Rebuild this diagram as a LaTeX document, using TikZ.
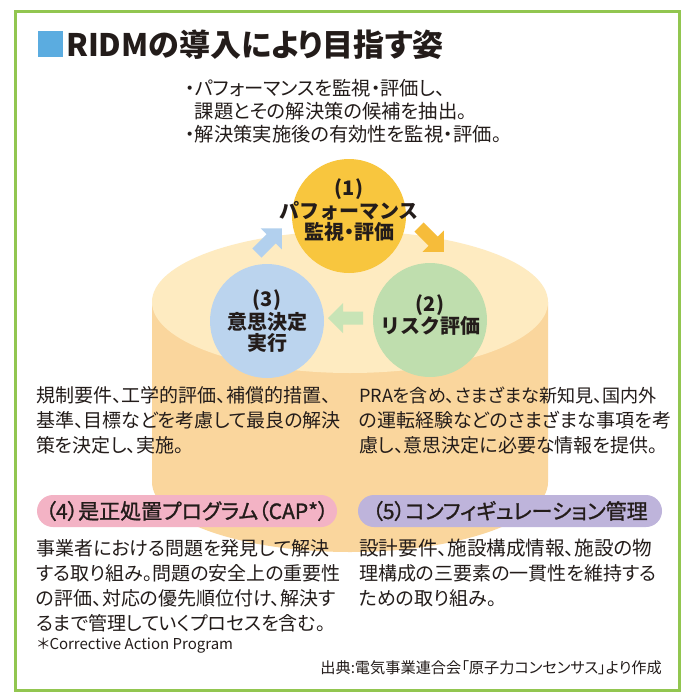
\documentclass[tikz,border=0pt]{standalone}
\usepackage{fontspec}
\setmainfont{Noto Sans CJK JP}[CharacterWidth=AlternateProportional]
\newfontfamily\jpfull{Noto Sans CJK JP}
\newfontfamily\jpmed{Noto Sans CJK JP}[CharacterWidth=AlternateProportional, FakeBold=1.2]
\definecolor{framegreen}{RGB}{146,198,80}
\definecolor{titleblue}{RGB}{91,172,224}
\definecolor{txt}{RGB}{35,28,26}
\definecolor{cyltop}{RGB}{254,235,193}
\definecolor{cylbody}{RGB}{250,214,157}
\definecolor{cgold}{RGB}{248,198,62}
\definecolor{cgreen}{RGB}{191,222,174}
\definecolor{cblue}{RGB}{187,212,238}
\definecolor{ablue}{RGB}{178,208,238}
\definecolor{aorange}{RGB}{246,188,58}
\definecolor{agreen}{RGB}{200,228,182}
\definecolor{pillpink}{RGB}{243,179,197}
\definecolor{pillpurple}{RGB}{190,180,219}
\begin{document}
\begin{tikzpicture}[x=1pt,y=-1pt,
  every node/.style={text=txt, inner sep=0pt},
  circ/.style={circle, minimum size=114pt, draw=none},
  ctext/.style={align=center, font=\jpfull\bfseries\fontsize{20}{21}\selectfont},
  para/.style={anchor=west, align=left, font=\fontsize{19}{25}\selectfont},
  pill/.style={rounded corners=16pt, minimum height=32pt, font=\jpmed\fontsize{21}{21}\selectfont},
  fatarr/.pic={\fill[pic actions] (0,-6.5) -- (20,-6.5) -- (20,-15) -- (35,0) -- (20,15) -- (20,6.5) -- (0,6.5) -- cycle;}
]
\path[use as bounding box] (0,0) rectangle (684,694);
\fill[white] (0,0) rectangle (684,694);
\draw[framegreen, line width=3pt] (15,11) rectangle (679,690);

% title
\fill[titleblue] (38,31) rectangle (63,57);
\node[anchor=west, font=\bfseries\fontsize{31}{31}\selectfont] (title) at (66,45) {RIDMの導入により目指す姿};

% bullets
\node[anchor=west, align=left, font=\fontsize{19.3}{23}\selectfont] (bul) at (185,111)
  {・パフォーマンスを監視・評価し、\\\phantom{・}課題とその解決策の候補を抽出。\\・解決策実施後の有効性を監視・評価。};

% cylinder
\fill[cylbody] (152,302) -- (152,482) arc[start angle=180, end angle=0, x radius=198, y radius=70] -- (548,302) -- cycle;
\fill[cyltop] (350,302) ellipse[x radius=198, y radius=71];

% circles
\node[circ, fill=cgold] (c1) at (349,216) {};
\node[circ, fill=cgreen] (c2) at (430,320) {};
\node[circ, fill=cblue] (c3) at (267,321) {};
\node[ctext] (t1) at (c1.center) [yshift=6pt] {(1)\\パフォーマンス\\{\rmfamily\bfseries 監視・評価}};
\node[ctext] (t2) at (c2.center) [yshift=5pt] {(2)\\リスク評価};
\node[ctext] (t3) at (c3.center) {(3)\\意思決定\\実行};

% arrows
\pic[fill=ablue, rotate=45] at (257,253) {fatarr};
\pic[fill=aorange, rotate=-45] at (419,227) {fatarr};
\pic[fill=agreen, rotate=180] at (363,318) {fatarr};

% paragraphs
\node[para] (pl) at (36,420) {規制要件、工学的評価、補償的措置、\\基準、目標などを考慮して最良の解決\\策を決定し、実施。};
\node[para] (pr) at (359,420) {{\fontsize{18.1}{25}\selectfont PRAを含め、さまざまな新知見、国内外}\\の運転経験などのさまざまな事項を考\\慮し、意思決定に必要な情報を提供。};

% pills
\node[pill, fill=pillpink, minimum width=300pt] (p4) at (187,511) {（4）是正処置プログラム（CAP*）};
\node[pill, fill=pillpurple, minimum width=304pt] (p5) at (510,511) {（5）コンフィギュレーション管理};

\node[para] (bl) at (36,585.5) {事業者における問題を発見して解決\\する取り組み。問題の安全上の重要性\\の評価、対応の優先順位付け、解決す\\るまで管理していくプロセスを含む。};
\node[para] (br) at (359,573) {{\fontsize{19.6}{25}\selectfont 設計要件、施設構成情報、施設の物}\\理構成の三要素の一貫性を維持する\\ための取り組み。};

\node[anchor=west, font=\fontsize{15}{15}\selectfont] (fn) at (37,646) {＊Corrective Action Program};
\node[anchor=east, font=\fontsize{15.2}{15.2}\selectfont] (src) at (662,668) {出典:電気事業連合会「原子力コンセンサス」より作成};
\end{tikzpicture}
\end{document}
